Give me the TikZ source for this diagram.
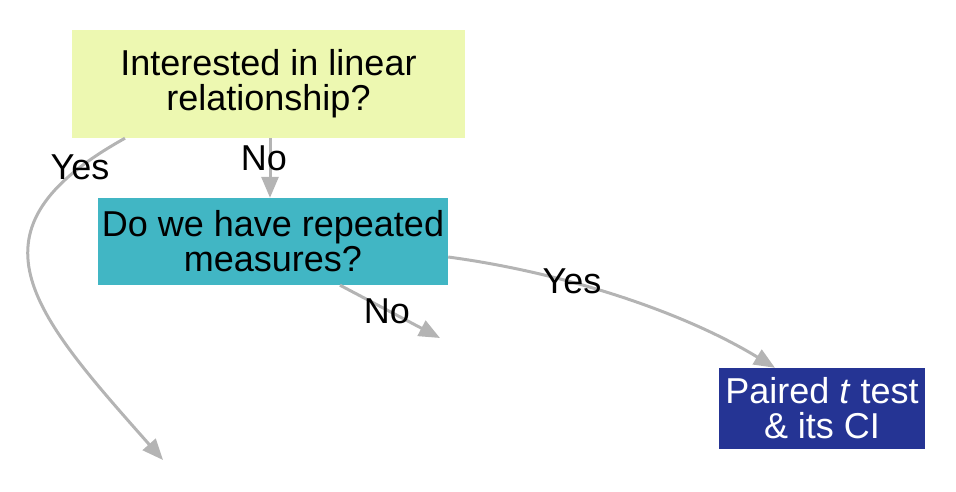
\documentclass[tikz,border=0pt]{standalone}
\usepackage{fontspec}
\setmainfont{Liberation Sans}
\usetikzlibrary{arrows.meta}
\definecolor{boxyellow}{RGB}{237,248,177}
\definecolor{boxteal}{RGB}{65,182,196}
\definecolor{boxnavy}{RGB}{37,52,148}
\definecolor{edgegray}{RGB}{180,180,180}
\begin{document}
\begin{tikzpicture}[x=1pt,y=-1pt,
  box/.style={rectangle, inner sep=0pt, align=center,
    font=\fontsize{36}{35}\selectfont},
  lbl/.style={inner sep=0pt, font=\fontsize{36}{35}\selectfont},
  edge/.style={draw=edgegray, line width=3pt,
    -{Triangle[length=21pt,width=17pt]}}]
\useasboundingbox (0,0) rectangle (956,491);
\node[box, fill=boxyellow, minimum width=393pt, minimum height=108pt] (top) at (268.5,84)
  {Interested in linear\\relationship?};
\node[box, fill=boxteal, minimum width=350pt, minimum height=87pt] (mid) at (273,241.5)
  {Do we have repeated\\measures?};
\node[box, fill=boxnavy, text=white, minimum width=206pt, minimum height=81pt] (pair) at (822,408.5)
  {Paired \textit{t} test\\\& its CI};
\coordinate (yesend) at (163,460);
\coordinate (noend) at (440,338);
\draw[edge] (top.south -| 270,0) -- (mid.north -| 270,0);
\draw[edge] (top.south -| 125,0) .. controls (-40,230) and (30,310) .. (yesend);
\draw[edge] (mid.south -| 340,0) -- (noend);
\draw[edge] (mid.east |- 0,257) .. controls (560,272) and (680,310) .. (pair.north -| 775,0);
\node[lbl] (l1) at (264,158) {No};
\node[lbl] (l2) at (80,167) {Yes};
\node[lbl] (l3) at (387,311) {No};
\node[lbl] (l4) at (572,281) {Yes};
\end{tikzpicture}
\end{document}
